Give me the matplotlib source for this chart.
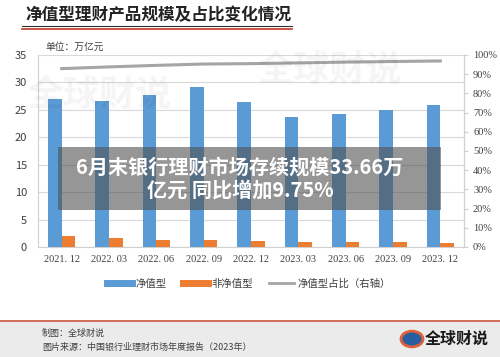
import numpy as np
import matplotlib.pyplot as plt
from matplotlib.patches import Rectangle, Circle
from matplotlib.lines import Line2D

plt.rcParams['font.family'] = ['Noto Sans CJK SC', 'DejaVu Sans']

periods = ["2021.12", "2022.03", "2022.06", "2022.09", "2022.12",
           "2023.03", "2023.06", "2023.09", "2023.12"]
net_value = [26.9, 26.7, 27.7, 29.2, 26.4, 23.7, 24.2, 25.0, 25.9]
non_net_value = [2.0, 1.6, 1.3, 1.2, 1.1, 0.97, 0.9, 0.85, 0.75]
net_share = [92.9, 93.8, 94.6, 95.3, 95.5, 95.9, 96.3, 96.6, 96.9]

blue = "#5b9bd5"
orange = "#ed7d31"
gray = "#a5a5a5"

W, H = 500, 357
fig = plt.figure(figsize=(W / 100, H / 100), dpi=100)
fig.patch.set_facecolor("white")

def fx(px):
    return px / W

def fy(py):
    return 1 - py / H

ax = fig.add_axes([fx(38), fy(247), fx(464) - fx(38), fy(55) - fy(247)])
x = np.arange(len(periods))
bw = 0.29
ax.bar(x - bw / 2, net_value, bw, color=blue, zorder=3)
ax.bar(x + bw / 2, non_net_value, bw, color=orange, zorder=3)
ax.set_xlim(-0.5, len(periods) - 0.5)
ax.set_ylim(0, 35)
ax.set_yticks(range(0, 36, 5))
ax.yaxis.grid(True, color="#d9d9d9", lw=0.8, zorder=0)
ax.set_xticks(x)
ax.set_xticklabels([p.replace(".", ". ") for p in periods], fontsize=7.5,
                   family=['Liberation Serif', 'DejaVu Serif'], color="#404040")
ax.tick_params(axis="y", labelsize=8, colors="#404040", length=0, pad=8)
ax.tick_params(axis="x", length=0, pad=6)
ax.spines["top"].set_visible(False)
for s in ["left", "right", "bottom"]:
    ax.spines[s].set_color("#d0d0d0")

ax2 = ax.twinx()
ax2.plot(x, net_share, color=gray, lw=2.2, zorder=4)
ax2.set_ylim(0, 100)
ax2.set_yticks(range(0, 101, 10))
ax2.set_yticklabels([f"{v}%" for v in range(0, 101, 10)],
                    family=['Liberation Serif', 'DejaVu Serif'])
ax2.tick_params(axis="y", labelsize=7.5, colors="#404040", length=3, color="#d0d0d0")
for s in ["top", "left", "bottom"]:
    ax2.spines[s].set_visible(False)
ax2.spines["right"].set_color("#d0d0d0")

# title
fig.text(fx(25), fy(15), "净值型理财产品规模及占比变化情况", fontsize=12,
         fontweight="bold", style="italic", color="#222222", va="center")
fig.add_artist(Line2D([fx(22), fx(292)], [fy(26), fy(26)], color="#333333", lw=0.8))
fig.add_artist(Line2D([fx(22), fx(292)], [fy(28.5), fy(28.5)], color="#c0392b", lw=1.2))
fig.text(fx(45), fy(47), "单位：万亿元", fontsize=7, color="#404040", va="center")

# legend
handles = [Line2D([], [], color=blue, lw=5),
           Line2D([], [], color=orange, lw=5),
           Line2D([], [], color=gray, lw=2)]
fig.legend(handles, ["净值型", "非净值型", "净值型占比（右轴）"], loc="center",
           bbox_to_anchor=(fx(249), fy(284)), ncol=3, frameon=False, fontsize=7.5,
           handlelength=2.4, handletextpad=0.3, columnspacing=1.6,
           labelcolor="#404040")

# watermarks
for (wx, wy) in [(100, 95), (330, 70)]:
    fig.text(fx(wx), fy(wy), "全球财说", fontsize=26, fontweight="bold",
             style="italic", color="#000000", alpha=0.04, va="center", ha="center")

# overlay banner
fig.add_artist(Rectangle((fx(58), fy(210)), fx(441) - fx(58), fy(147) - fy(210),
                         transform=fig.transFigure, facecolor="#505050", alpha=0.6,
                         edgecolor="none", zorder=10))
fig.text(fx(240), fy(167), "6月末银行理财市场存续规模33.66万", fontsize=14.5,
         fontweight="bold", color="white", ha="center", va="center", zorder=11)
fig.text(fx(240), fy(190), "亿元 同比增加9.75%", fontsize=14.5,
         fontweight="bold", color="white", ha="center", va="center", zorder=11)

# footer
fig.add_artist(Rectangle((0, 0), 1, fy(321), transform=fig.transFigure,
                         facecolor="#ebebeb", edgecolor="none", zorder=0))
fig.add_artist(Line2D([0, 1], [fy(321), fy(321)], color="#c9553f", lw=1.2))
fig.text(fx(42), fy(333), "制图：全球财说", fontsize=6.5, color="#404040", va="center")
fig.text(fx(42), fy(347), "图片来源：中国银行业理财市场年度报告（2023年）", fontsize=6.5,
         color="#404040", va="center")
fig.add_artist(Circle((fx(412), fy(339)), 0.022, transform=fig.transFigure,
                      facecolor="#2a5d9f", edgecolor="#e0603a", lw=2))
fig.text(fx(425), fy(339), "全球财说", fontsize=11.5, fontweight="bold",
         color="#1a1a1a", va="center")

fig.savefig("out.png", dpi=100)
